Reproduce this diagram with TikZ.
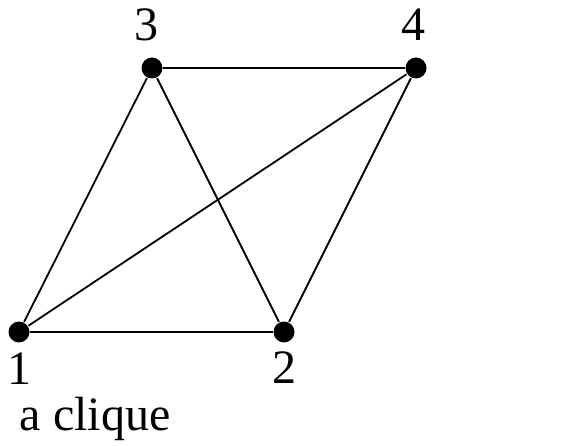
\documentclass[tikz,border=0pt]{standalone}
\usepackage{fontspec}
\setmainfont{Liberation Serif}
\tikzset{
  every picture/.style={x=1pt, y=-1pt, line width=1.8pt},
  vtx/.style={circle, fill=black, inner sep=0pt, minimum size=21pt},
  vlabel/.style={font=\fontsize{48}{56}\selectfont, inner sep=0pt},
  edge/.style={draw=black, line width=1.8pt},
}
\begin{document}
\begin{tikzpicture}
  \useasboundingbox (0,0) rectangle (567,446);
  % the four vertices
  \node[vtx, label={[vlabel, label distance=9pt]below:1}] (v1) at (19,332) {};
  \node[vtx, label={[vlabel, label distance=7pt]below:2}] (v2) at (284,332) {};
  \node[vtx, label={[vlabel, label distance=15pt, xshift=-6pt]above:3}] (v3) at (152,68) {};
  \node[vtx, label={[vlabel, label distance=15pt, xshift=-3pt]above:4}] (v4) at (416,68) {};
  % every pair joined
  \foreach \a/\b in {1/2, 1/3, 1/4, 2/3, 2/4, 3/4}
    \draw[edge] (v\a) -- (v\b);
  \node[font=\fontsize{48}{56}\selectfont, anchor=base west, inner sep=0pt] (caption) at (19,430) {a clique};
\end{tikzpicture}
\end{document}
